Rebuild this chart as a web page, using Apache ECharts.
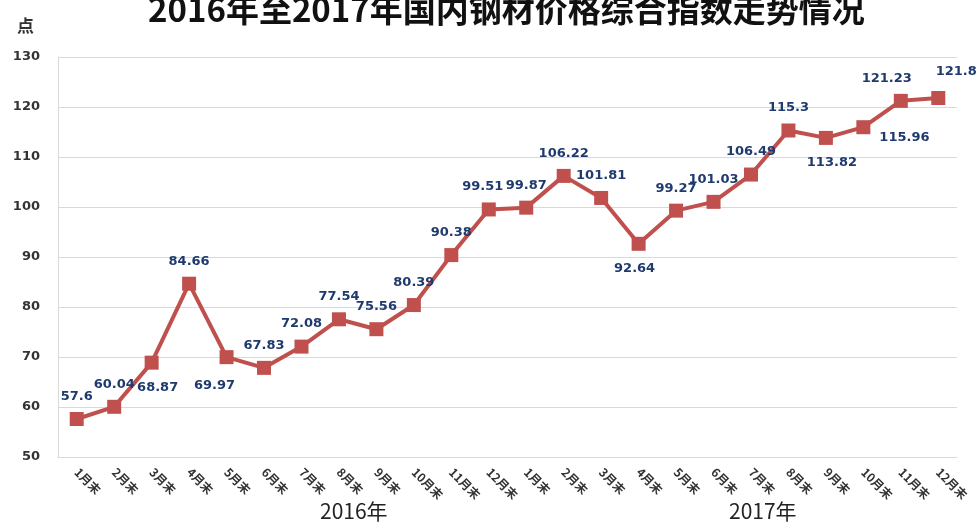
<!DOCTYPE html>
<html lang="zh">
<head>
    <meta charset="UTF-8">
    <title>钢材价格综合指数</title>
    <script src="https://cdn.jsdelivr.net/npm/echarts@6/dist/echarts.min.js"></script>
</head>
<body style="margin:0;">
<div id="main" style="width: 977px;height:525px;"></div>
<script type="text/javascript">
    // 月份标签（2016年1月末 ~ 2017年12月末）
    var months = ['1月末', '2月末', '3月末', '4月末', '5月末', '6月末', '7月末', '8月末', '9月末', '10月末', '11月末', '12月末',
        '1月末', '2月末', '3月末', '4月末', '5月末', '6月末', '7月末', '8月末', '9月末', '10月末', '11月末', '12月末'];
    var priceIndex = [57.6, 60.04, 68.87, 84.66, 69.97, 67.83, 72.08, 77.54, 75.56, 80.39, 90.38, 99.51,
        99.87, 106.22, 101.81, 92.64, 99.27, 101.03, 106.49, 115.3, 113.82, 115.96, 121.23, 121.8];
    var years = ['2016年', '2017年'];

    // 各点标签的摆放位置（照原图）
    var labelPos = {
        2: {position: 'bottom', offset: [6, 2]},
        4: {position: 'bottom', offset: [-12, 6]},
        11: {position: 'top', offset: [-6, 0]},
        15: {position: 'bottom', offset: [-4, 2]},
        20: {position: 'bottom', offset: [6, 2]},
        21: {position: 'right', offset: [0, 10]},
        22: {position: 'top', offset: [-14, 0]},
        23: {position: 'top', offset: [18, -4]}
    };

    var myChart = echarts.init(document.getElementById('main'));

    var option = {
        backgroundColor: '#fff',
        title: {
            text: '2016年至2017年国内钢材价格综合指数走势情况',
            left: 143,
            top: -12,
            textStyle: {
                fontSize: 33,
                fontWeight: 'bold',
                color: '#111',
                fontFamily: 'Noto Sans CJK SC'
            }
        },
        grid: {
            left: 58,
            right: 20,
            top: 57,
            bottom: 68
        },
        xAxis: {
            type: 'category',
            data: months,
            axisLine: {lineStyle: {color: '#d9d9d9', width: 1}},
            axisTick: {show: false},
            axisLabel: {
                rotate: -45,
                margin: 13,
                interval: 0,
                fontSize: 12,
                fontWeight: 'bold',
                color: '#333',
                fontFamily: 'Noto Sans CJK SC'
            }
        },
        yAxis: {
            type: 'value',
            min: 50,
            max: 130,
            interval: 10,
            name: '点',
            nameLocation: 'end',
            nameGap: 23,
            nameTextStyle: {
                fontSize: 17,
                color: '#333',
                fontWeight: 'bold',
                align: 'right',
                padding: [0, 24, 0, 0],
                fontFamily: 'Noto Sans CJK SC'
            },
            axisLine: {show: true, lineStyle: {color: '#d9d9d9'}},
            axisTick: {show: false},
            axisLabel: {
                margin: 18,
                fontSize: 13,
                fontWeight: 'bold',
                color: '#333',
                fontFamily: 'DejaVu Sans'
            },
            splitLine: {lineStyle: {color: '#d9d9d9', width: 1}}
        },
        graphic: years.map(function (y, i) {
            return {
                type: 'text',
                left: i === 0 ? 320 : 729,
                top: 501,
                style: {
                    text: y,
                    fontSize: 21,
                    fill: '#222',
                    fontFamily: 'Noto Sans CJK SC'
                }
            };
        }),
        series: [
            {
                type: 'line',
                data: priceIndex.map(function (v, i) {
                    var item = {value: v};
                    if (labelPos[i]) {
                        item.label = labelPos[i];
                    }
                    return item;
                }),
                symbol: 'rect',
                symbolSize: 14,
                lineStyle: {color: '#c0504d', width: 4},
                itemStyle: {color: '#c0504d'},
                label: {
                    show: true,
                    position: 'top',
                    distance: 9,
                    fontSize: 13,
                    fontWeight: 'bold',
                    color: '#1f3a6e',
                    fontFamily: 'DejaVu Sans'
                },
                animation: false
            }
        ]
    };

    myChart.setOption(option);
</script>
</body>
</html>
